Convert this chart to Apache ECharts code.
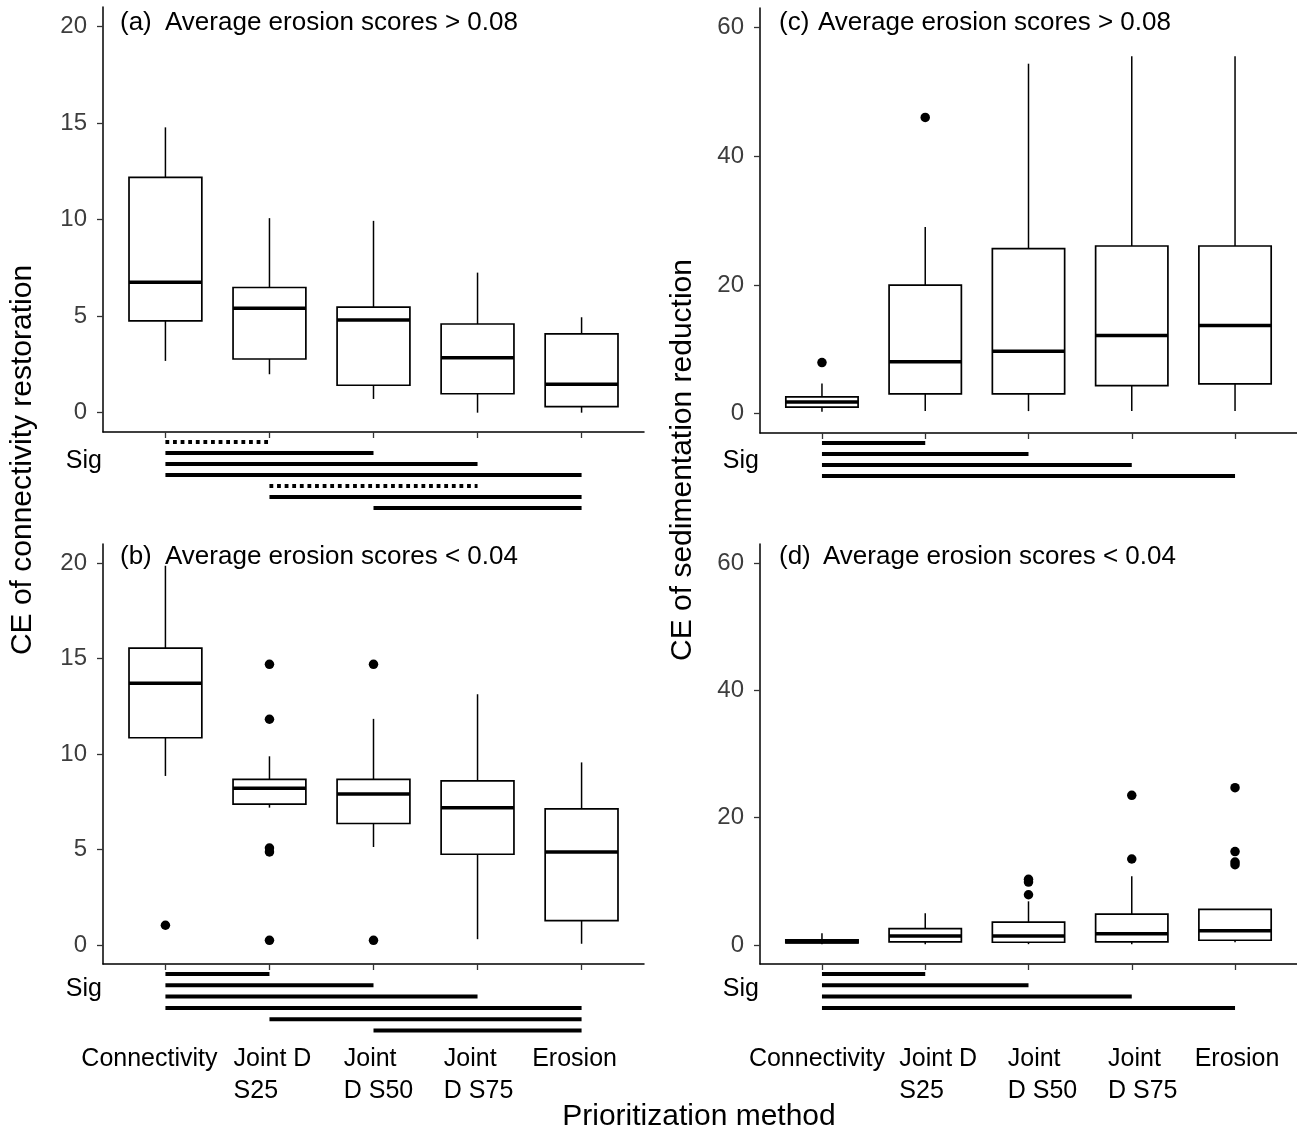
<!DOCTYPE html>
<html>
<head>
<meta charset="utf-8">
<script src="https://cdn.jsdelivr.net/npm/echarts@6/dist/echarts.min.js"></script>
<style>
html,body{margin:0;padding:0;background:#fff;}
#chart{width:1297px;height:1135px;}
</style>
</head>
<body>
<div id="chart"></div>
<script>
// ---------------- DATA ----------------
const categories = ['Connectivity', 'Joint D S25', 'Joint D S50', 'Joint D S75', 'Erosion'];
const categoryLabels = ['Connectivity', 'Joint D\nS25', 'Joint\nD S50', 'Joint\nD S75', 'Erosion'];
const yTicksConnectivity = [0, 5, 10, 15, 20];
const yTicksSediment = [0, 20, 40, 60];

// box stats per category: [lower whisker, Q1, median, Q3, upper whisker]
const boxA = [
  [2.68, 4.75, 6.75, 12.18, 14.77],
  [1.99, 2.78, 5.41, 6.48, 10.07],
  [0.71, 1.42, 4.80, 5.46, 9.93],
  [0.00, 0.98, 2.85, 4.59, 7.25],
  [0.00, 0.31, 1.47, 4.08, 4.94]
];
const boxB = [
  [8.85, 10.85, 13.70, 15.55, 19.86],
  [7.19, 7.37, 8.20, 8.67, 9.88],
  [5.13, 6.36, 7.90, 8.67, 11.84],
  [0.30, 4.75, 7.19, 8.59, 13.13],
  [0.06, 1.27, 4.87, 7.13, 9.56]
];
const boxC = [
  [0.30, 1.03, 1.80, 2.62, 4.68],
  [0.40, 3.09, 8.08, 19.97, 28.98],
  [0.40, 3.09, 9.68, 25.63, 54.35],
  [0.40, 4.37, 12.15, 26.04, 55.50],
  [0.40, 4.63, 13.69, 26.04, 55.50]
];
const boxD = [
  [0.10, 0.30, 0.48, 0.79, 1.82],
  [0.12, 0.48, 1.39, 2.55, 4.97],
  [0.12, 0.42, 1.39, 3.58, 6.85],
  [0.12, 0.48, 1.76, 4.85, 10.79],
  [0.42, 0.73, 2.24, 5.58, 5.64]
];

// outliers: [category index, value]
const outliersA = [];
const outliersB = [[0, 1.03], [1, 14.7], [1, 11.82], [1, 5.07], [1, 4.87], [1, 0.24], [2, 14.7], [2, 0.24]];
const outliersC = [[0, 7.93], [1, 46.0]];
const outliersD = [[2, 10.3], [2, 9.88], [2, 7.88], [3, 23.5], [3, 13.5], [4, 24.7], [4, 14.67], [4, 13.03], [4, 12.6]];

// significance bars: [from category index, to category index, dotted?]
const sigA = [[0, 1, true], [0, 2, false], [0, 3, false], [0, 4, false], [1, 3, true], [1, 4, false], [2, 4, false]];
const sigB = [[0, 1, false], [0, 2, false], [0, 3, false], [0, 4, false], [1, 4, false], [2, 4, false]];
const sigC = [[0, 1, false], [0, 2, false], [0, 3, false], [0, 4, false]];
const sigD = [[0, 1, false], [0, 2, false], [0, 3, false], [0, 4, false]];

const panelTags = ['(a)', '(b)', '(c)', '(d)'];
const panelTitles = ['Average erosion scores > 0.08', 'Average erosion scores < 0.04', 'Average erosion scores > 0.08', 'Average erosion scores < 0.04'];
const yTitleLeft = 'CE of connectivity restoration';
const yTitleRight = 'CE of sedimentation reduction';
const xTitle = 'Prioritization method';
const sigText = 'Sig';

// ---------------- STYLE / LAYOUT ----------------
const FONT = "'Liberation Sans', Arial, Helvetica, sans-serif";
const X_MIN = 0.4, X_MAX = 5.6, BOX_W = 0.7;
const catPos = categories.map((c, i) => i + 1);

const panels = [
  { box: boxA, out: outliersA, sig: sigA, left: 103, top: 7, width: 541, height: 425, yMin: -1, yMax: 21, ticks: yTicksConnectivity, showCat: false, sigTop: 442, sigRow: 11, sigY: 461, tagX: 120, titleX: 165, titleY: 23, shifts: null },
  { box: boxB, out: outliersB, sig: sigB, left: 103, top: 544, width: 541, height: 420, yMin: -1, yMax: 21, ticks: yTicksConnectivity, showCat: true, sigTop: 974, sigRow: 11.3, sigY: 989, tagX: 120, titleX: 165, titleY: 557, shifts: [-16, 3, 5, 1, -7] },
  { box: boxC, out: outliersC, sig: sigC, left: 760, top: 8, width: 545, height: 425, yMin: -3, yMax: 63, ticks: yTicksSediment, showCat: false, sigTop: 443, sigRow: 11, sigY: 461, tagX: 779, titleX: 818, titleY: 23, shifts: null },
  { box: boxD, out: outliersD, sig: sigD, left: 760, top: 544, width: 545, height: 420, yMin: -3, yMax: 63, ticks: yTicksSediment, showCat: true, sigTop: 974, sigRow: 11.3, sigY: 989, tagX: 779, titleX: 823, titleY: 557, shifts: [-5, 13, 14, 11, 2] }
];

function renderBox(params, api) {
  const x = api.value(0);
  const pLow = api.coord([x, api.value(1)]);
  const pQ1 = api.coord([x, api.value(2)]);
  const pMed = api.coord([x, api.value(3)]);
  const pQ3 = api.coord([x, api.value(4)]);
  const pHigh = api.coord([x, api.value(5)]);
  const hw = api.size([BOX_W, 0])[0] / 2;
  const cx = pMed[0];
  return {
    type: 'group',
    children: [
      { type: 'line', shape: { x1: cx, y1: pQ1[1], x2: cx, y2: pLow[1] }, style: { stroke: '#000', lineWidth: 1.5 } },
      { type: 'line', shape: { x1: cx, y1: pQ3[1], x2: cx, y2: pHigh[1] }, style: { stroke: '#000', lineWidth: 1.5 } },
      { type: 'rect', shape: { x: cx - hw, y: pQ3[1], width: 2 * hw, height: pQ1[1] - pQ3[1] }, style: { fill: '#fff', stroke: '#000', lineWidth: 1.7 } },
      { type: 'line', shape: { x1: cx - hw, y1: pMed[1], x2: cx + hw, y2: pMed[1] }, style: { stroke: '#000', lineWidth: 3.5 } }
    ]
  };
}

function renderSig(params, api) {
  const p1 = api.coord([api.value(0), api.value(2)]);
  const p2 = api.coord([api.value(1), api.value(2)]);
  const dotted = api.value(3) === 1;
  return {
    type: 'line',
    shape: { x1: p1[0], y1: p1[1], x2: p2[0], y2: p2[1] },
    style: { stroke: '#000', lineWidth: 4, lineDash: dotted ? [3.8, 3.8] : null, lineCap: 'butt' }
  };
}

const LABEL_FONT = '25px ' + FONT;
const measureCtx = document.createElement('canvas').getContext('2d');
function textWidth(s) { measureCtx.font = LABEL_FONT; return measureCtx.measureText(s).width; }

function makeLabelRenderer(shifts) {
  return function (params, api) {
    const k = api.value(2);
    const p = api.coord([api.value(0), api.value(1)]);
    const lines = categoryLabels[k].split('\n');
    const blockW = Math.max.apply(null, lines.map(textWidth));
    return {
      type: 'text',
      x: p[0] + shifts[k] - blockW / 2,
      y: p[1],
      style: {
        text: categoryLabels[k],
        align: 'left',
        verticalAlign: 'top',
        fontSize: 25,
        fontFamily: FONT,
        lineHeight: 32,
        fill: '#000'
      }
    };
  };
}

const grids = [], xAxes = [], yAxes = [], series = [], graphics = [];

panels.forEach((p, pi) => {
  const gi = grids.length;
  grids.push({ left: p.left, top: p.top, width: p.width, height: p.height });

  xAxes.push({
    gridIndex: gi, type: 'value', min: X_MIN, max: X_MAX,
    axisLine: { show: true, onZero: false, lineStyle: { color: '#000', width: 1.5 } },
    axisTick: { show: true, length: 6, customValues: catPos, lineStyle: { color: '#333', width: 1.3 } },
    axisLabel: { show: false },
    splitLine: { show: false }
  });
  yAxes.push({
    gridIndex: gi, type: 'value', min: p.yMin, max: p.yMax,
    axisLine: { show: true, onZero: false, lineStyle: { color: '#000', width: 1.5 } },
    axisTick: { show: true, length: 6, customValues: p.ticks, lineStyle: { color: '#333', width: 1.3 } },
    axisLabel: { show: true, customValues: p.ticks, margin: 16, fontSize: 24, color: '#3d3d3d', fontFamily: FONT, showMinLabel: true, showMaxLabel: true },
    splitLine: { show: false }
  });

  series.push({
    type: 'custom', xAxisIndex: gi, yAxisIndex: gi, z: 2,
    data: p.box.map((b, k) => [catPos[k]].concat(b)),
    renderItem: renderBox
  });
  series.push({
    type: 'scatter', xAxisIndex: gi, yAxisIndex: gi, z: 3,
    data: p.out.map(o => [catPos[o[0]], o[1]]),
    symbol: 'circle', symbolSize: 9.5,
    itemStyle: { color: '#000', opacity: 1 }
  });

  // significance bar grid
  const si = grids.length;
  grids.push({ left: p.left, top: p.sigTop, width: p.width, height: p.sigRow * 8 });
  xAxes.push({ gridIndex: si, type: 'value', min: X_MIN, max: X_MAX, show: false });
  yAxes.push({ gridIndex: si, type: 'value', min: 0, max: 8, inverse: true, show: false });
  series.push({
    type: 'custom', xAxisIndex: si, yAxisIndex: si, z: 2,
    data: p.sig.map((s, r) => [catPos[s[0]], catPos[s[1]], r, s[2] ? 1 : 0]),
    renderItem: renderSig
  });

  // category label grid (bottom panels)
  if (p.showCat) {
    const li = grids.length;
    grids.push({ left: p.left, top: p.top + p.height + 79, width: p.width, height: 64 });
    xAxes.push({ gridIndex: li, type: 'value', min: X_MIN, max: X_MAX, show: false });
    yAxes.push({ gridIndex: li, type: 'value', min: 0, max: 1, inverse: true, show: false });
    series.push({
      type: 'custom', xAxisIndex: li, yAxisIndex: li, z: 2, clip: false,
      data: catPos.map((x, k) => [x, 0, k]),
      renderItem: makeLabelRenderer(p.shifts)
    });
  }

  // texts
  graphics.push({ type: 'text', x: p.tagX, y: p.titleY, style: { text: panelTags[pi], fontSize: 26, fontFamily: FONT, fill: '#000', align: 'left', verticalAlign: 'middle' } });
  graphics.push({ type: 'text', x: p.titleX, y: p.titleY, style: { text: panelTitles[pi], fontSize: 26, fontFamily: FONT, fill: '#000', align: 'left', verticalAlign: 'middle' } });
  graphics.push({ type: 'text', x: p.left - 1, y: p.sigY, style: { text: sigText, fontSize: 25, fontFamily: FONT, fill: '#000', align: 'right', verticalAlign: 'middle' } });
});

graphics.push({ type: 'text', x: 23, y: 460, rotation: Math.PI / 2, style: { text: yTitleLeft, fontSize: 30, fontFamily: FONT, fill: '#000', align: 'center', verticalAlign: 'middle' } });
graphics.push({ type: 'text', x: 683, y: 460, rotation: Math.PI / 2, style: { text: yTitleRight, fontSize: 30, fontFamily: FONT, fill: '#000', align: 'center', verticalAlign: 'middle' } });
graphics.push({ type: 'text', x: 699, y: 1117, style: { text: xTitle, fontSize: 30, fontFamily: FONT, fill: '#000', align: 'center', verticalAlign: 'middle' } });

const chart = echarts.init(document.getElementById('chart'), null, { renderer: 'canvas' });
chart.setOption({
  backgroundColor: '#fff',
  animation: false,
  grid: grids,
  xAxis: xAxes,
  yAxis: yAxes,
  series: series,
  graphic: { elements: graphics }
});
</script>
</body>
</html>
